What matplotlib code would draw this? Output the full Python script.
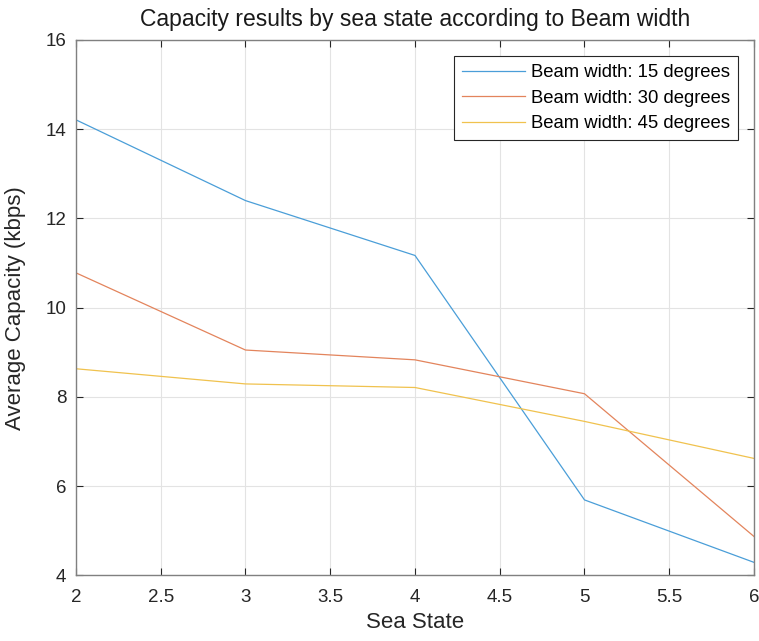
import matplotlib.pyplot as plt
import numpy as np

# ================ DATA ===================
sea_state = [2, 3, 4, 5, 6]
cap_15 = [14.21, 12.40, 11.17, 5.69, 4.29]
cap_30 = [10.78, 9.05, 8.83, 8.07, 4.87]
cap_45 = [8.63, 8.29, 8.21, 7.45, 6.62]
labels = ['Beam width: 15 degrees', 'Beam width: 30 degrees', 'Beam width: 45 degrees']

COLORS = [blue, orange, yellow] = ['#4a9ed8', '#e3845c', '#f0c24e']

plt.rcParams['font.family'] = ['Liberation Sans', 'DejaVu Sans']

fig = plt.figure(figsize=(7.59, 6.41), dpi=100)
ax = fig.add_axes([0.1001, 0.1025, 0.8933, 0.8351])

ax.plot(sea_state, cap_15, color=blue, lw=0.9, label=labels[0])
ax.plot(sea_state, cap_30, color=orange, lw=0.9, label=labels[1])
ax.plot(sea_state, cap_45, color=yellow, lw=0.9, label=labels[2])

ax.set_xlim(2, 6)
ax.set_ylim(4, 16)
ax.set_xticks(np.arange(2, 6.01, 0.5))
ax.set_xticklabels(['2', '2.5', '3', '3.5', '4', '4.5', '5', '5.5', '6'])
ax.set_yticks([4, 6, 8, 10, 12, 14, 16])
ax.grid(True, color='#e3e3e3', lw=0.8)
ax.set_axisbelow(True)
ax.tick_params(direction='in', top=True, right=True, length=5, width=0.8,
               color='#262626', labelsize=13.5, labelcolor='#262626')
ax.tick_params(axis='y', pad=7)
ax.tick_params(axis='x', pad=10)
for s in ax.spines.values():
    s.set_color('#808080')
    s.set_linewidth(1.0)

ax.set_title('Capacity results by sea state according to Beam width', fontsize=16.5, color='#1a1a1a', pad=10)
ax.set_xlabel('Sea State', fontsize=16, color='#262626', labelpad=4)
ax.set_ylabel('Average Capacity (kbps)', fontsize=16, color='#262626')
ax.yaxis.set_label_coords(-0.074, 0.5)

leg = ax.legend(loc='upper right', bbox_to_anchor=(0.9764, 0.970), borderaxespad=0, fontsize=13.3,
                frameon=True, fancybox=False, edgecolor='#262626', handlelength=3.4,
                handletextpad=0.3, borderpad=0.45, labelspacing=0.45, framealpha=1)
leg.get_frame().set_linewidth(0.8)

fig.savefig('out.png', dpi=100)
